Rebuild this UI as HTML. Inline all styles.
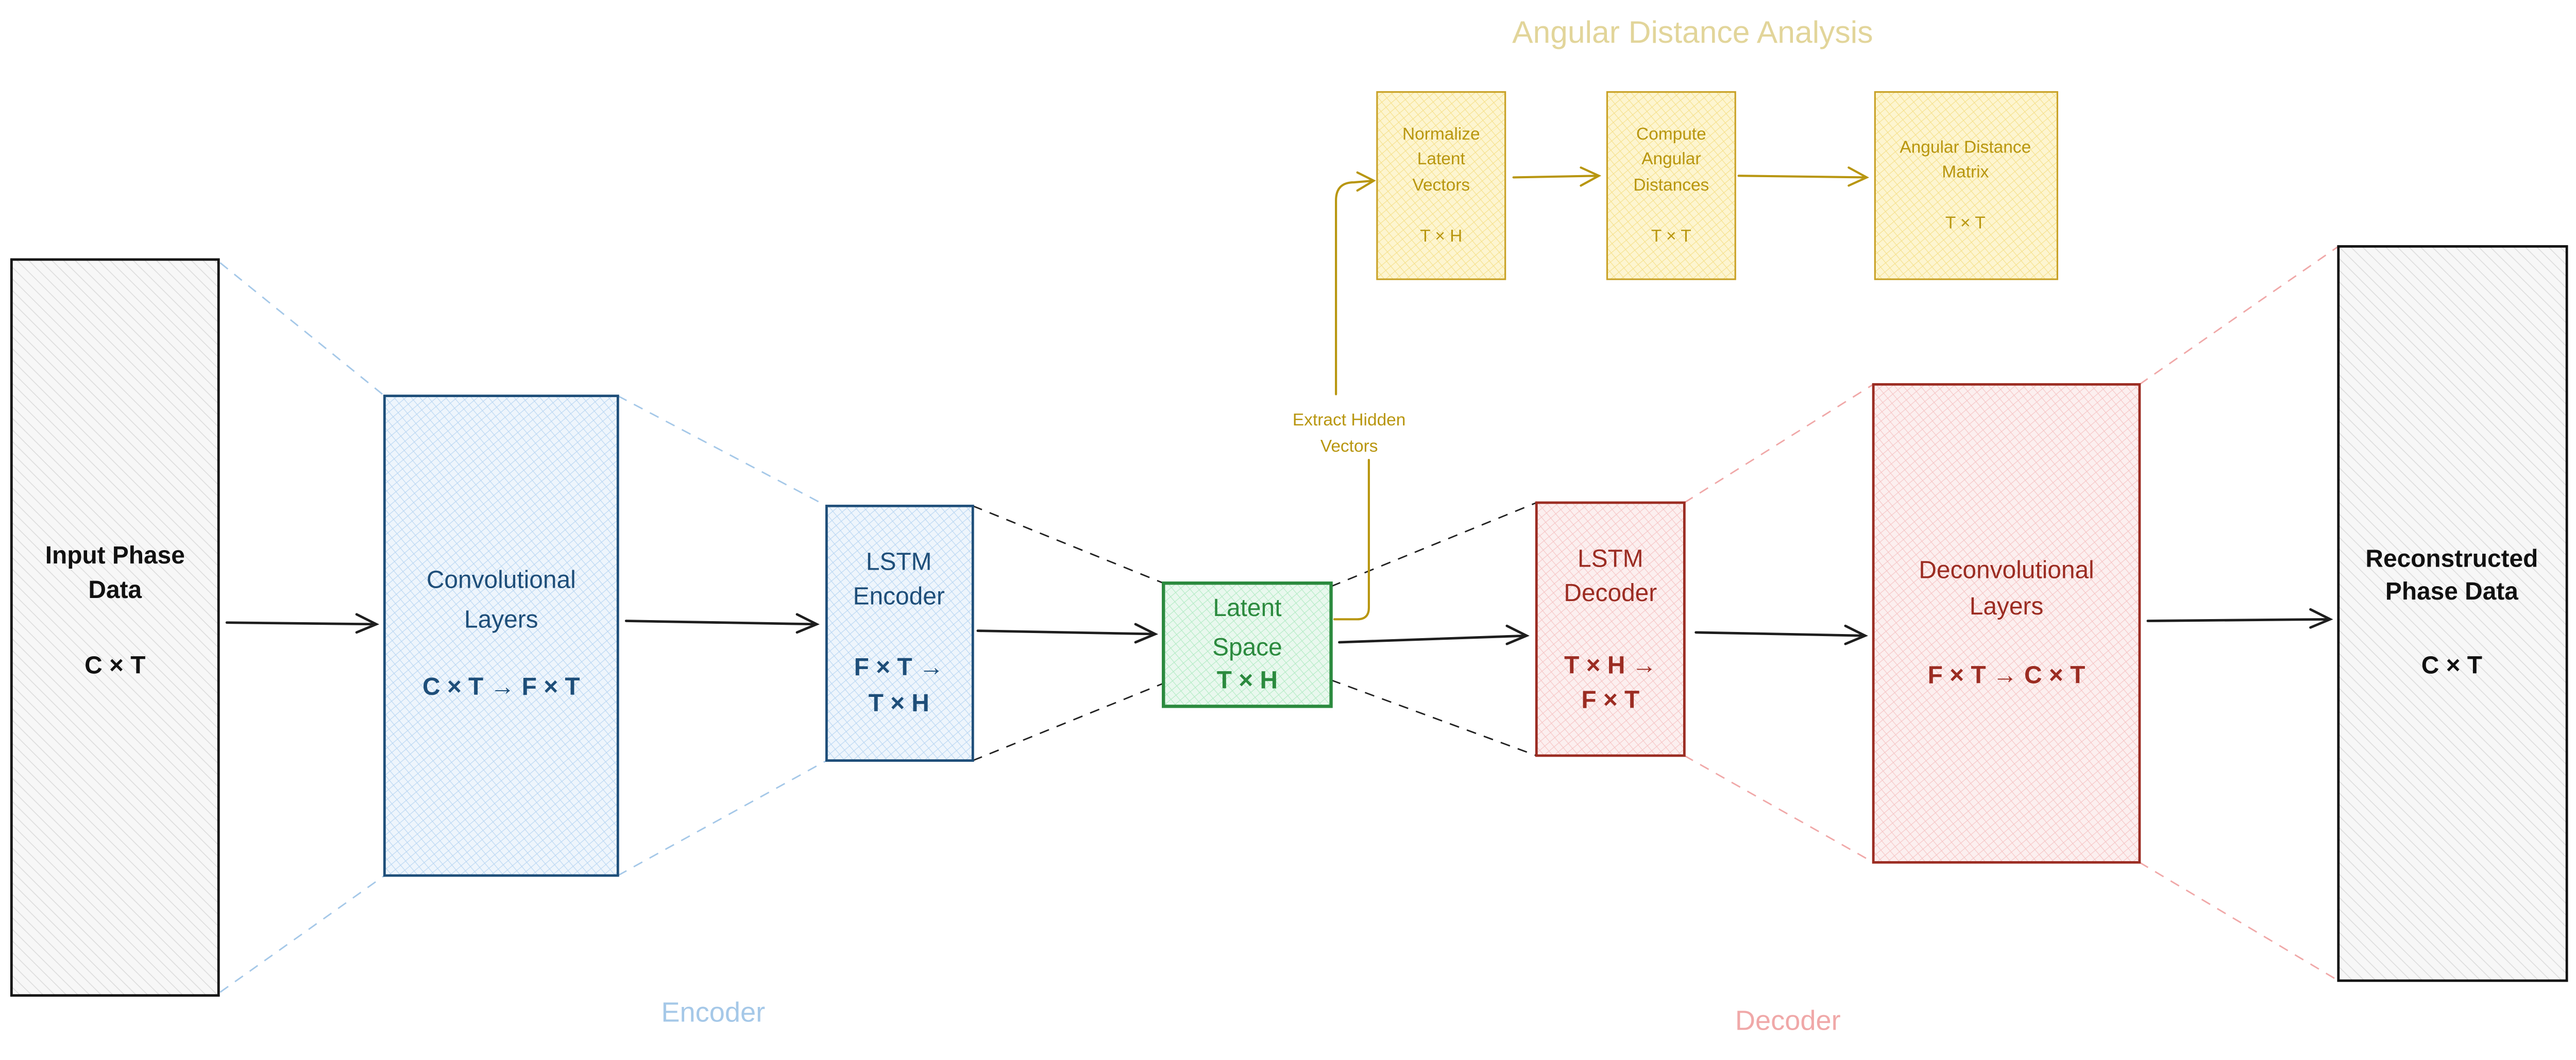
<!DOCTYPE html>
<html><head><meta charset="utf-8">
<style>
html,body{margin:0;padding:0;background:#fff;}
svg{display:block;}
text{font-family:"Liberation Sans",sans-serif;text-anchor:middle;}
</style></head>
<body>
<svg width="5030" height="2058" viewBox="0 0 1577 645.3" preserveAspectRatio="none" xmlns="http://www.w3.org/2000/svg">
<defs>
<pattern id="pg" width="5" height="5" patternUnits="userSpaceOnUse" patternTransform="rotate(-45)">
<rect width="5" height="5" fill="#f7f7f7"/><line x1="0" y1="0" x2="0" y2="5" stroke="#dcdcdc" stroke-width="1"/></pattern>
<pattern id="pb" width="4" height="4" patternUnits="userSpaceOnUse" patternTransform="rotate(-40)">
<rect width="4" height="4" fill="#eef5fc"/><line x1="0" y1="0" x2="0" y2="4" stroke="#b8d6f2" stroke-width="0.7"/><line x1="0" y1="0" x2="4" y2="0" stroke="#b8d6f2" stroke-width="0.7"/></pattern>
<pattern id="pgr" width="4" height="4" patternUnits="userSpaceOnUse" patternTransform="rotate(-40)">
<rect width="4" height="4" fill="#e9f8ee"/><line x1="0" y1="0" x2="0" y2="4" stroke="#b2ebc4" stroke-width="0.7"/><line x1="0" y1="0" x2="4" y2="0" stroke="#b2ebc4" stroke-width="0.7"/></pattern>
<pattern id="pr" width="4" height="4" patternUnits="userSpaceOnUse" patternTransform="rotate(-40)">
<rect width="4" height="4" fill="#fcefef"/><line x1="0" y1="0" x2="0" y2="4" stroke="#f5c4c4" stroke-width="0.7"/><line x1="0" y1="0" x2="4" y2="0" stroke="#f5c4c4" stroke-width="0.7"/></pattern>
<pattern id="py" width="4" height="4" patternUnits="userSpaceOnUse" patternTransform="rotate(-40)">
<rect width="4" height="4" fill="#fdf5d0"/><line x1="0" y1="0" x2="0" y2="4" stroke="#f5e08a" stroke-width="0.7"/><line x1="0" y1="0" x2="4" y2="0" stroke="#f5e08a" stroke-width="0.7"/></pattern>
</defs>

<g fill="none" stroke-width="0.9" stroke-dasharray="6,5">
<g stroke="#a5c8e8">
<line x1="134" y1="160" x2="234" y2="241"/><line x1="134" y1="604" x2="234" y2="533"/>
<line x1="376" y1="241" x2="503" y2="308"/><line x1="376" y1="533" x2="503" y2="463"/>
</g>
<g stroke="#222">
<line x1="592" y1="308" x2="708" y2="355"/><line x1="592" y1="463" x2="708" y2="416"/>
<line x1="810" y1="357" x2="935" y2="306"/><line x1="810" y1="414" x2="935" y2="460"/>
</g>
<g stroke="#f0a8a8">
<line x1="1025" y1="306" x2="1140" y2="234"/><line x1="1025" y1="460" x2="1140" y2="525"/>
<line x1="1302" y1="234" x2="1423" y2="150"/><line x1="1302" y1="525" x2="1423" y2="597"/>
</g>
</g>

<rect x="7" y="158" width="126" height="448" fill="url(#pg)" stroke="#111" stroke-width="1.5"/>
<rect x="234" y="241" width="142" height="292" fill="url(#pb)" stroke="#1e4e79" stroke-width="1.5"/>
<rect x="503" y="308" width="89" height="155" fill="url(#pb)" stroke="#1e4e79" stroke-width="1.5"/>
<rect x="708" y="355" width="102" height="75" fill="url(#pgr)" stroke="#2b8a3e" stroke-width="2"/>
<rect x="935" y="306" width="90" height="154" fill="url(#pr)" stroke="#9b2c22" stroke-width="1.5"/>
<rect x="1140" y="234" width="162" height="291" fill="url(#pr)" stroke="#9b2c22" stroke-width="1.5"/>
<rect x="1423" y="150" width="139" height="447" fill="url(#pg)" stroke="#111" stroke-width="1.5"/>
<rect x="838" y="56" width="78" height="114" fill="url(#py)" stroke="#c9a227" stroke-width="1"/>
<rect x="978" y="56" width="78" height="114" fill="url(#py)" stroke="#c9a227" stroke-width="1"/>
<rect x="1141" y="56" width="111" height="114" fill="url(#py)" stroke="#c9a227" stroke-width="1"/>

<g fill="none" stroke="#1e1e1e" stroke-width="1.5" stroke-linecap="round">
<path d="M138 379 L229 380 M217 374 L229 380 L217 385"/>
<path d="M381 378 L497 380 M485 374 L497 380 L485 385"/>
<path d="M595 384 L703 386 M691 380 L703 386 L691 391"/>
<path d="M815 391 L929 387 M917 381 L929 387 L917 392"/>
<path d="M1032 385 L1135 387 M1123 381 L1135 387 L1123 392"/>
<path d="M1307 378 L1418 377 M1406 371 L1418 377 L1406 382"/>
</g>
<g fill="none" stroke="#b8960f" stroke-width="1.3" stroke-linecap="round">
<path d="M921 108 L973 107 M962 102 L973 107 L962 113"/>
<path d="M1058 107 L1136 108 M1125 102 L1136 108 L1125 113"/>
<path d="M812 377 L826 377 Q833 377 833 370 L833 280"/>
<path d="M813 240 L813 122 Q813 111 824 111 L836 110 M826 105 L836 110 L826 116"/>
</g>

<g font-weight="bold" font-size="15" fill="#111">
<text x="70" y="343">Input Phase</text><text x="70" y="364">Data</text><text x="70" y="410">C × T</text>
<text x="1492" y="345">Reconstructed</text><text x="1492" y="365">Phase Data</text><text x="1492" y="410">C × T</text>
</g>
<g font-size="15" fill="#1e4e79">
<text x="305" y="358">Convolutional</text><text x="305" y="382">Layers</text><text x="305" y="423" font-weight="bold">C × T → F × T</text>
<text x="547" y="347">LSTM</text><text x="547" y="368">Encoder</text><text x="547" y="411" font-weight="bold">F × T →</text><text x="547" y="433" font-weight="bold">T × H</text>
</g>
<g font-size="15" fill="#2b8a3e">
<text x="759" y="375">Latent</text><text x="759" y="399">Space</text><text x="759" y="419" font-weight="bold">T × H</text>
</g>
<g font-size="15" fill="#9b2c22">
<text x="980" y="345">LSTM</text><text x="980" y="366">Decoder</text><text x="980" y="410" font-weight="bold">T × H →</text><text x="980" y="431" font-weight="bold">F × T</text>
<text x="1221" y="352">Deconvolutional</text><text x="1221" y="374">Layers</text><text x="1221" y="416" font-weight="bold">F × T → C × T</text>
</g>
<g font-size="10.5" fill="#b8960f">
<text x="877" y="85">Normalize</text><text x="877" y="100">Latent</text><text x="877" y="116">Vectors</text><text x="877" y="147">T × H</text>
<text x="1017" y="85">Compute</text><text x="1017" y="100">Angular</text><text x="1017" y="116">Distances</text><text x="1017" y="147">T × T</text>
<text x="1196" y="93">Angular Distance</text><text x="1196" y="108">Matrix</text><text x="1196" y="139">T × T</text>
<text x="821" y="259">Extract Hidden</text><text x="821" y="275">Vectors</text>
</g>
<text x="1030" y="26" font-size="19" fill="#e2d59a">Angular Distance Analysis</text>
<text x="434" y="622" font-size="17" fill="#a5c8e8">Encoder</text>
<text x="1088" y="627" font-size="17" fill="#f0a8a8">Decoder</text>
</svg>
</body></html>
